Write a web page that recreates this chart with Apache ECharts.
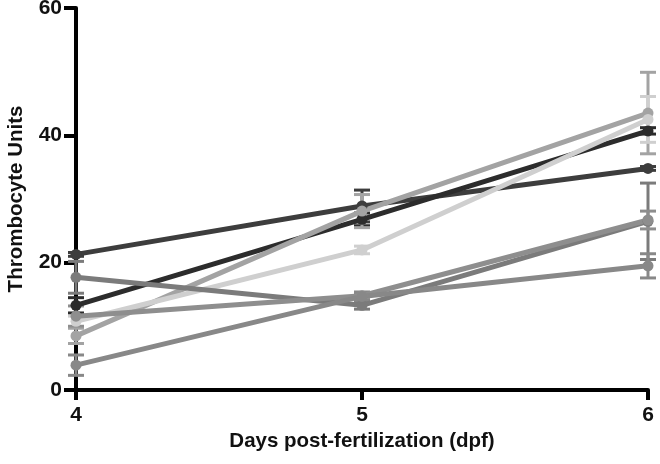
<!DOCTYPE html>
<html><head><meta charset="utf-8">
<script src="https://cdn.jsdelivr.net/npm/echarts@6/dist/echarts.min.js"></script>
<style>html,body{margin:0;padding:0;background:#fff}#c{width:660px;height:464px}</style>
</head><body><div id="c"></div>
<script>
const days = [4, 5, 6];
const xTicks = [4, 5, 6];
const yTicks = [0, 20, 40, 60];
const seriesNames = ['A', 'B', 'C', 'D', 'E', 'G', 'F'];
const seriesColors = ['#3d3d3d', '#2c2c2c', '#a3a3a3', '#cfcfcf', '#7b7b7b', '#8e8e8e', '#888888'];
const valA = [21.3, 28.9, 34.8];
const valB = [13.3, 26.8, 40.7];
const valC = [8.5, 28.1, 43.5];
const valD = [10.8, 22.0, 42.5];
const valE = [17.7, 13.3, 26.5];
const valG = [11.6, 14.8, 26.7];
const valF = [3.9, 14.7, 19.5];
const errA = [0.3, 2.5, 0.3];
const errB = [1.2, 1.0, 0.5];
const errC = [1.2, 2.6, 6.4];
const errD = [0.8, 0.6, 3.6];
const errE = [2.5, 0.6, 6.0];
const errG = [1.6, 0.6, 1.4];
const errF = [1.6, 0.6, 1.9];
const allVals = [valA, valB, valC, valD, valE, valG, valF];
const allErrs = [errA, errB, errC, errD, errE, errG, errF];

const chart = echarts.init(document.getElementById('c'), null, {renderer: 'canvas'});
const font = '"Liberation Sans", Arial, sans-serif';
const series = [];
allVals.forEach((vals, i) => {
  const color = seriesColors[i];
  const errs = allErrs[i];
  series.push({
    type: 'custom',
    name: seriesNames[i] + '_err',
    z: 2,
    data: days.map((d, j) => [d, vals[j] - errs[j], vals[j] + errs[j]]),
    renderItem: function (params, api) {
      const x = api.value(0);
      const lo = api.coord([x, api.value(1)]);
      const hi = api.coord([x, api.value(2)]);
      const hw = 8;
      const st = {stroke: color, lineWidth: 3};
      return {type: 'group', children: [
        {type: 'line', shape: {x1: lo[0], y1: lo[1], x2: hi[0], y2: hi[1]}, style: st},
        {type: 'line', shape: {x1: lo[0] - hw, y1: lo[1], x2: lo[0] + hw, y2: lo[1]}, style: st},
        {type: 'line', shape: {x1: hi[0] - hw, y1: hi[1], x2: hi[0] + hw, y2: hi[1]}, style: st}
      ]};
    },
    silent: true
  });
  series.push({
    type: 'line',
    name: seriesNames[i],
    z: 3,
    data: days.map((d, j) => [d, vals[j]]),
    symbol: 'circle',
    symbolSize: 11,
    lineStyle: {color: color, width: 5},
    itemStyle: {color: color},
    animation: false
  });
});

chart.setOption({
  animation: false,
  grid: {left: 76, right: 12, top: 8, bottom: 74, containLabel: false, outerBoundsMode: 'none'},
  xAxis: {
    type: 'value', min: 4, max: 6, interval: 1,
    name: 'Days post-fertilization (dpf)', nameLocation: 'middle', nameGap: 38,
    nameTextStyle: {fontFamily: font, fontWeight: 'bold', fontSize: 20.5, color: '#111'},
    axisLine: {show: true, onZero: false, lineStyle: {color: '#000', width: 4}},
    axisTick: {show: true, length: 10, lineStyle: {color: '#000', width: 4}},
    axisLabel: {fontFamily: font, fontWeight: 'bold', fontSize: 21, color: '#111', margin: 15},
    splitLine: {show: false}
  },
  yAxis: {
    type: 'value', min: 0, max: 60, interval: 20,
    name: 'Thrombocyte Units', nameLocation: 'middle', nameGap: 49,
    nameTextStyle: {fontFamily: font, fontWeight: 'bold', fontSize: 20.5, color: '#111'},
    axisLine: {show: true, lineStyle: {color: '#000', width: 4}},
    axisTick: {show: true, length: 12, lineStyle: {color: '#000', width: 4}},
    axisLabel: {fontFamily: font, fontWeight: 'bold', fontSize: 21, color: '#111', margin: 14},
    splitLine: {show: false}
  },
  series: series
});
</script></body></html>
